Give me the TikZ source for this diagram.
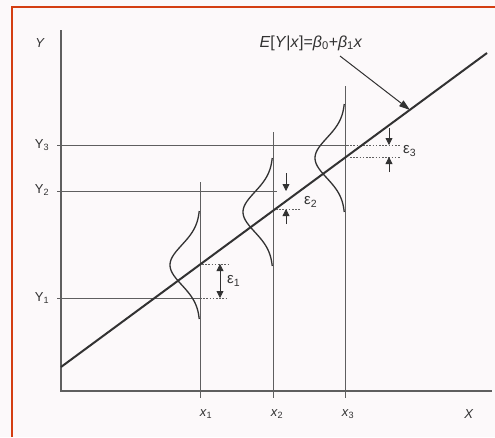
\documentclass[tikz,border=0pt]{standalone}
\usepackage{fontspec}
\setmainfont{Liberation Sans}
\usetikzlibrary{arrows.meta}
\definecolor{frame}{RGB}{212,62,18}
\definecolor{ink}{RGB}{50,50,50}
\definecolor{thin}{RGB}{95,95,95}
\definecolor{paper}{RGB}{252,249,250}
\begin{document}
\begin{tikzpicture}[x=1pt,y=-1pt,
  axis/.style={draw=thin,line width=1.1pt},
  guide/.style={draw=thin,line width=1pt},
  dotline/.style={draw=thin,line width=0.8pt,dash pattern=on 1.6pt off 1.6pt},
  regline/.style={draw=ink,line width=2pt},
  bell/.style={draw=ink,line width=1.3pt},
  epsarrow/.style={draw=ink,line width=0.8pt,-{Triangle[length=7pt,width=7pt]}},
  lbl/.style={text=ink,font=\fontsize{13}{15}\selectfont,inner sep=0pt},
  epslbl/.style={text=ink,font=\fontsize{15}{17}\selectfont,inner sep=0pt,anchor=west}]
\useasboundingbox (0,0) rectangle (495,437);
\fill[paper] (0,0) rectangle (495,437);
% frame
\draw[frame,line width=2.5pt] (12,437) -- (12,7) -- (495,7);
% axes
\coordinate (ytop) at (61,30);
\coordinate (origin) at (61,391);
\coordinate (xend) at (492,391);
\draw[axis] (ytop) -- (origin) -- (xend);
% vertical guides
\coordinate (x1top) at (200,182); \coordinate (x1bot) at (200,398);
\coordinate (x2top) at (273,132); \coordinate (x2bot) at (273,398);
\coordinate (x3top) at (345,86);  \coordinate (x3bot) at (345,398);
\draw[guide] (x1top) -- (x1bot);
\draw[guide] (x2top) -- (x2bot);
\draw[guide] (x3top) -- (x3bot);
% horizontal Y lines
\coordinate (y3l) at (57,145); \coordinate (y3r) at (347,145); \coordinate (y3d) at (400,145);
\coordinate (y2l) at (57,191); \coordinate (y2r) at (277,191);
\coordinate (y1l) at (57,298); \coordinate (y1r) at (200,298); \coordinate (y1d) at (226,298);
\draw[guide] (y3l) -- (y3r);
\draw[dotline] (y3r) -- (y3d);
\draw[guide] (y2l) -- (y2r);
\draw[guide] (y1l) -- (y1r);
\draw[dotline] (y1r) -- (y1d);
% bell curves
\draw[bell] plot[domain=-54:54,samples=60] ({200-30*exp(-(\x*\x)/800)},{265+\x});
\draw[bell] plot[domain=-54:54,samples=60] ({273-30*exp(-(\x*\x)/800)},{212+\x});
\draw[bell] plot[domain=-54:54,samples=60] ({345-30*exp(-(\x*\x)/800)},{158+\x});
% regression line
\coordinate (rl0) at (61,367);
\coordinate (rl1) at (487,53);
\draw[regline] (rl0) -- (rl1);
% dotted levels of the line
\coordinate (m1a) at (202,264); \coordinate (m1b) at (230,264);
\coordinate (m2a) at (276,209); \coordinate (m2b) at (300,209);
\coordinate (m3a) at (350,157); \coordinate (m3b) at (400,157);
\draw[dotline] (m1a) -- (m1b);
\draw[dotline] (m2a) -- (m2b);
\draw[dotline] (m3a) -- (m3b);
% epsilon 1 (outward arrows)
\coordinate (e1c) at (220,281);
\coordinate (e1t) at (220,264);
\coordinate (e1b) at (220,298);
\draw[epsarrow] (e1c) -- (e1t);
\draw[epsarrow] (e1c) -- (e1b);
\node[epslbl] (eps1) at (227,281) {ε\textsubscript{1}};
% epsilon 2 (inward arrows)
\coordinate (e2s) at (286,173); \coordinate (e2t) at (286,191);
\coordinate (e2u) at (286,224); \coordinate (e2v) at (286,209);
\draw[epsarrow] (e2s) -- (e2t);
\draw[epsarrow] (e2u) -- (e2v);
\node[epslbl] (eps2) at (304,202) {ε\textsubscript{2}};
% epsilon 3 (inward arrows)
\coordinate (e3s) at (389,128); \coordinate (e3t) at (389,145);
\coordinate (e3u) at (389,172); \coordinate (e3v) at (389,157);
\draw[epsarrow] (e3s) -- (e3t);
\draw[epsarrow] (e3u) -- (e3v);
\node[epslbl] (eps3) at (403,151) {ε\textsubscript{3}};
% labels
\node[lbl] (Ylab) at (40,43) {\textit{Y}};
\node[lbl] (Y3lab) at (42,145) {Y\textsubscript{3}};
\node[lbl] (Y2lab) at (42,190) {Y\textsubscript{2}};
\node[lbl] (Y1lab) at (42,298) {Y\textsubscript{1}};
\node[lbl] (x1lab) at (206,414) {\textit{x}\textsubscript{1}};
\node[lbl] (x2lab) at (277,414) {\textit{x}\textsubscript{2}};
\node[lbl] (x3lab) at (348,414) {\textit{x}\textsubscript{3}};
\node[lbl] (Xlab) at (469,414) {\textit{X}};
\node[lbl,font=\fontsize{16}{18}\selectfont] (eq) at (311,43) {\textit{E}[\textit{Y}|\textit{x}]=\textit{β}\textsubscript{0}+\textit{β}\textsubscript{1}\textit{x}};
% pointer arrow
\coordinate (pstart) at (340,56);
\coordinate (pend) at (410,110);
\draw[draw=ink,line width=1pt,-{Triangle[length=11pt,width=7pt]}] (pstart) -- (pend);
\end{tikzpicture}
\end{document}
